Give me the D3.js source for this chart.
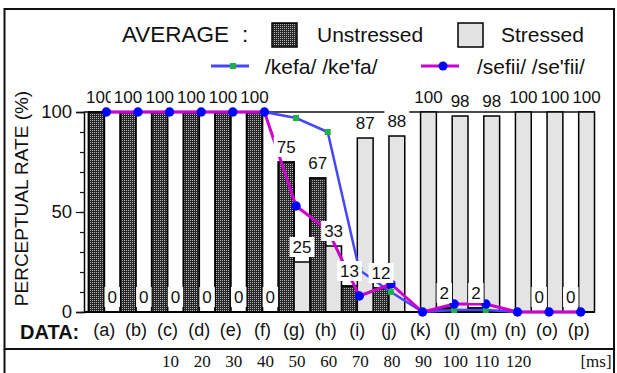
<!DOCTYPE html>
<html>
<head>
<meta charset="utf-8">
<title>Perceptual rate</title>
<style>
  html, body { margin: 0; padding: 0; background: #fff; }
  svg { display: block; font-family: "Liberation Sans", Arial, sans-serif; }
</style>
</head>
<body>
<svg id="svg" width="617" height="373"></svg>
<script src="https://d3js.org/d3.v7.min.js"></script>
<script>
// values
const categories = ["(a)", "(b)", "(c)", "(d)", "(e)", "(f)", "(g)", "(h)", "(i)", "(j)", "(k)", "(l)", "(m)", "(n)", "(o)", "(p)"];
const unstressed = [100, 100, 100, 100, 100, 100, 75, 67, 13, 12, 0, 2, 2, 0, 0, 0];
const stressed = [0, 0, 0, 0, 0, 0, 25, 33, 87, 88, 100, 98, 98, 100, 100, 100];
const unstressedLabels = ["100", "100", "100", "100", "100", "100", "75", "67", "13", "12", "", "2", "2", "", "0", "0"];
const stressedLabels = ["0", "0", "0", "0", "0", "0", "25", "33", "87", "88", "100", "98", "98", "100", "100", "100"];
const kefa = [100, 100, 100, 100, 100, 100, 97, 90, 21, 10, 0, 1, 1, 0, 0, 0];
const sefii = [100, 100, 100, 100, 100, 100, 53, 41, 8, 14, 0, 4, 4, 0, 0, 0];
const msLabels = ["10", "20", "30", "40", "50", "60", "70", "80", "90", "100", "110", "120"];
const msCategories = categories.slice(2, 14);
const yMajor = [0, 50, 100];
const yMinor = d3.range(0, 101, 10);

const svg = d3.select("#svg");
const axisX = 84;

const x = d3.scaleBand().domain(categories).range([88.5, 594.5]).padding(0);
const bw = x.bandwidth() / 2;
const y = d3.scaleLinear().domain([0, 100]).range([312, 112]);
const lx = function(i) { return x(categories[i]) + x.bandwidth() / 2 + 2; };

// dotted fill for the unstressed bars
const defs = svg.append("defs");
const pat = defs.append("pattern").attr("id", "dots")
    .attr("width", 2).attr("height", 2).attr("patternUnits", "userSpaceOnUse");
pat.append("rect").attr("width", 2).attr("height", 2).attr("fill", "#262626");
pat.append("rect").attr("x", 0).attr("y", 0).attr("width", 1).attr("height", 1).attr("fill", "#b4b4b4");

// frames
svg.append("rect").attr("x", 4.5).attr("y", 9).attr("width", 609.5).attr("height", 340)
    .attr("fill", "none").attr("stroke", "#111").attr("stroke-width", 2);
svg.append("path").attr("d", "M4.5,349V373M614,349V373")
    .attr("fill", "none").attr("stroke", "#111").attr("stroke-width", 2);

// legend
const leg = svg.append("g").style("font-size", "21px").attr("fill", "#111");
leg.append("text").attr("x", 122).attr("y", 41.5).style("font-size", "22.5px").text("AVERAGE");
leg.append("text").attr("x", 242).attr("y", 41.5).style("font-size", "22.5px").text(":");
leg.append("rect").attr("x", 272).attr("y", 23).attr("width", 25).attr("height", 24)
    .attr("fill", "url(#dots)").attr("stroke", "#000").attr("stroke-width", 1.5);
leg.append("text").attr("x", 317).attr("y", 41.5).text("Unstressed");
leg.append("rect").attr("x", 458).attr("y", 23).attr("width", 25).attr("height", 24)
    .attr("fill", "#e3e3e3").attr("stroke", "#000").attr("stroke-width", 1.5);
leg.append("text").attr("x", 501).attr("y", 41.5).text("Stressed");
leg.append("line").attr("x1", 211).attr("x2", 249).attr("y1", 66).attr("y2", 66)
    .attr("stroke", "#4646ff").attr("stroke-width", 3);
leg.append("rect").attr("x", 230).attr("y", 63).attr("width", 6).attr("height", 6).attr("fill", "#1fb04a");
leg.append("text").attr("x", 265).attr("y", 73.5).text("/kefa/ /ke'fa/");
leg.append("line").attr("x1", 421).attr("x2", 459).attr("y1", 66).attr("y2", 66)
    .attr("stroke", "#cc00cc").attr("stroke-width", 3);
leg.append("circle").attr("cx", 443).attr("cy", 66).attr("r", 4.5).attr("fill", "#0000ff");
leg.append("text").attr("x", 477).attr("y", 73.5).text("/sefii/ /se'fii/");

// plot top line
svg.append("line").attr("x1", axisX).attr("x2", 594.5).attr("y1", y(100)).attr("y2", y(100))
    .attr("stroke", "#111").attr("stroke-width", 1.5);

// bars
svg.append("g").selectAll("rect").data(unstressed).join("rect")
    .attr("x", (d, i) => x(categories[i]))
    .attr("y", d => y(d))
    .attr("width", bw)
    .attr("height", d => y(0) - y(d))
    .attr("fill", "url(#dots)")
    .attr("stroke", "#000").attr("stroke-width", 1.8);
svg.append("g").selectAll("rect").data(stressed).join("rect")
    .attr("x", (d, i) => x(categories[i]) + bw)
    .attr("y", d => y(d))
    .attr("width", bw)
    .attr("height", d => y(0) - y(d))
    .attr("fill", "#e4e4e4")
    .attr("stroke", "#000").attr("stroke-width", 1.5);

// axes
const minorAxis = svg.append("g").attr("transform", "translate(" + axisX + ",0)")
    .call(d3.axisLeft(y).tickValues(yMinor).tickSize(4).tickFormat(""));
minorAxis.select(".domain").remove();
const majorAxis = svg.append("g").attr("transform", "translate(" + axisX + ",0)")
    .call(d3.axisLeft(y).tickValues(yMajor).tickSize(8).tickPadding(4));
majorAxis.select(".domain").attr("stroke-width", 1.5);
majorAxis.selectAll("text").style("font-size", "18.5px").attr("fill", "#111")
    .style("font-family", "'Liberation Sans', Arial, sans-serif");
svg.selectAll(".tick line").attr("stroke", "#111").attr("stroke-width", 1.2);

svg.append("line").attr("x1", axisX).attr("x2", 594.5).attr("y1", y(0)).attr("y2", y(0))
    .attr("stroke", "#000").attr("stroke-width", 2);

const xAxis = svg.append("g").attr("transform", "translate(0," + y(0) + ")")
    .call(d3.axisBottom(x).tickSize(0).tickPadding(11));
xAxis.select(".domain").remove();
xAxis.selectAll("text").style("font-size", "18px").attr("fill", "#111")
    .style("font-family", "'Liberation Sans', Arial, sans-serif");

svg.append("text").attr("x", 20).attr("y", 339).style("font-size", "20px")
    .style("font-weight", "bold").attr("fill", "#111").text("DATA:");

svg.append("text")
    .attr("transform", "translate(28,198.5)rotate(-90)")
    .attr("text-anchor", "middle").style("font-size", "19px").attr("fill", "#111")
    .text("PERCEPTUAL RATE (%)");

// lines
const line = d3.line().x((d, i) => lx(i)).y(d => y(d));
svg.append("path").datum(kefa).attr("d", line)
    .attr("fill", "none").attr("stroke", "#4646ff").attr("stroke-width", 2.5);
svg.append("path").datum(sefii).attr("d", line)
    .attr("fill", "none").attr("stroke", "#cc00cc").attr("stroke-width", 3);
svg.append("g").selectAll("rect").data(kefa).join("rect")
    .attr("x", (d, i) => lx(i) - 3).attr("y", d => y(d) - 3)
    .attr("width", 6).attr("height", 6).attr("fill", "#1fb04a");
svg.append("g").selectAll("circle").data(sefii).join("circle")
    .attr("cx", (d, i) => lx(i)).attr("cy", d => y(d)).attr("r", 4.7).attr("fill", "#0000ff");

// data labels with white boxes
function addLabels(labels, values, offset) {
    labels.forEach(function(t, i) {
        if (!t) return;
        const g = svg.append("g");
        const box = g.append("rect").attr("fill", "#fff");
        const txt = g.append("text").attr("text-anchor", "middle")
            .style("font-size", "17px").attr("fill", "#111").text(t);
        const w = txt.node().getComputedTextLength();
        let cx = x(categories[i]) + offset + bw / 2;
        cx = Math.max(cx, axisX + w / 2 + 2);
        const base = y(values[i]) - 9;
        txt.attr("x", cx).attr("y", base);
        box.attr("x", cx - w / 2 - 3).attr("y", base - 16).attr("width", w + 6).attr("height", 20);
    });
}
addLabels(unstressedLabels, unstressed, 0);
addLabels(stressedLabels, stressed, bw);

// time row
svg.append("g").selectAll("text").data(msLabels).join("text")
    .attr("x", (d, i) => x(msCategories[i]) + x.bandwidth() / 2 + 3)
    .attr("y", 367).attr("text-anchor", "middle")
    .style("font-family", "'Liberation Serif', 'Times New Roman', serif")
    .style("font-size", "17px").attr("fill", "#111")
    .text(d => d);
svg.append("text").attr("x", 596).attr("y", 367).attr("text-anchor", "middle")
    .style("font-family", "'Liberation Serif', 'Times New Roman', serif")
    .style("font-size", "17px").attr("fill", "#111").text("[ms]");
</script>
</body>
</html>
